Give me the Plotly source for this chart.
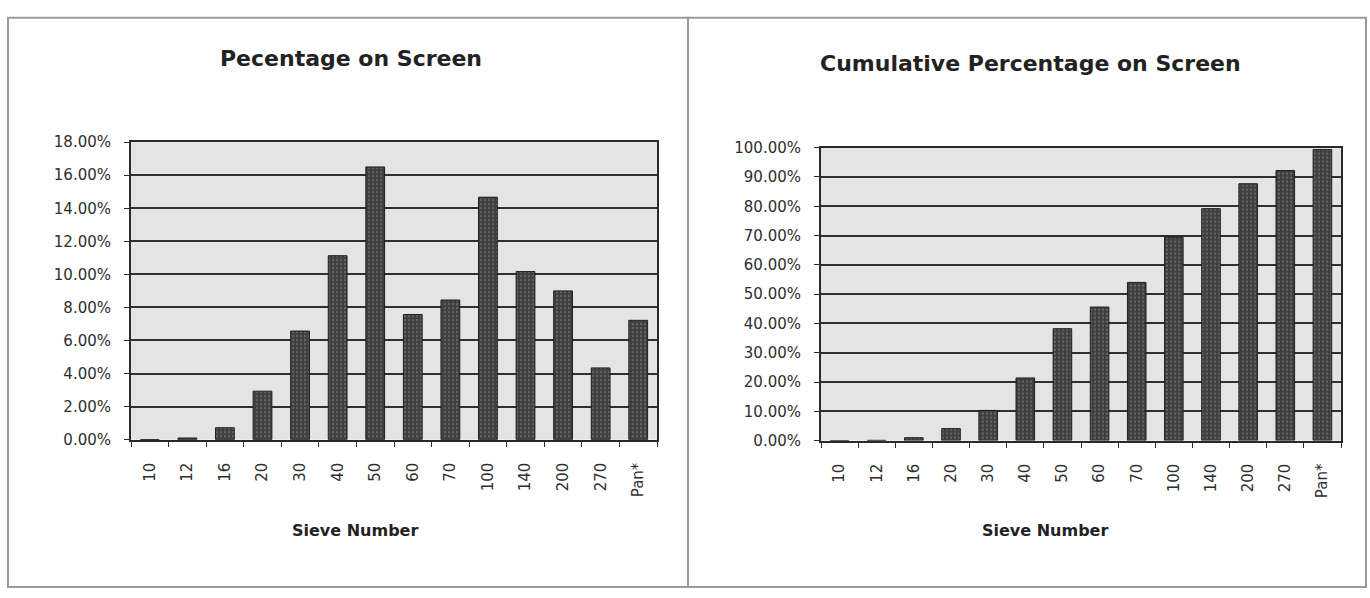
import plotly.graph_objects as go

# Sieve analysis: percentage retained and cumulative percentage retained
sieves = ["10", "12", "16", "20", "30", "40", "50", "60", "70", "100", "140", "200", "270", "Pan*"]
pct_on_screen = [0.0, 0.001, 0.0072, 0.0293, 0.0657, 0.1113, 0.165, 0.0757, 0.0845,
                 0.1467, 0.1017, 0.090, 0.0434, 0.0722]
cum_pct_on_screen = [0.0, 0.001, 0.010, 0.041, 0.103, 0.214, 0.382, 0.456, 0.540,
                     0.694, 0.792, 0.877, 0.922, 0.994]

W, H = 1370, 598

def px_x(v):
    return v / W

def px_y(v):
    return 1 - v / H

bar_style = dict(
    color="#4d4d4d",
    line=dict(color="#1e1e1e", width=1),
    pattern=dict(shape=".", fgcolor="#8c8c8c", bgcolor="#3f3f3f", size=4, solidity=0.25),
)

fig = go.Figure()
fig.add_trace(go.Bar(x=sieves, y=pct_on_screen, marker=bar_style, xaxis="x", yaxis="y",
                     showlegend=False))
fig.add_trace(go.Bar(x=sieves, y=cum_pct_on_screen, marker=bar_style, xaxis="x2", yaxis="y2",
                     showlegend=False))

tick_font = dict(family="DejaVu Sans", size=15, color="#2e2e2e")

xaxis_common = dict(
    type="category",
    tickson="boundaries",
    ticks="outside",
    ticklen=5,
    tickcolor="#2a2a2a",
    tickangle=-90,
    tickfont=tick_font,
    showline=True,
    linecolor="#2a2a2a",
    linewidth=2,
    mirror=True,
    showgrid=False,
    ticklabelstandoff=15,
)
yaxis_common = dict(
    tickformat=".2%",
    ticks="outside",
    ticklen=5,
    tickcolor="#2a2a2a",
    tickfont=tick_font,
    showline=True,
    linecolor="#2a2a2a",
    linewidth=2,
    mirror=True,
    showgrid=True,
    gridcolor="#2f2f2f",
    gridwidth=2,
    zeroline=False,
    ticklabelstandoff=10,
)

fig.update_layout(
    width=W,
    height=H,
    margin=dict(l=0, r=0, t=0, b=0),
    paper_bgcolor="white",
    plot_bgcolor="#e4e4e4",
    bargap=0.5,
    xaxis=dict(domain=[px_x(131), px_x(657)], anchor="y", **xaxis_common),
    yaxis=dict(domain=[px_y(444), px_y(137.3)], anchor="x", range=[0, 0.18], dtick=0.02,
               **yaxis_common),
    xaxis2=dict(domain=[px_x(821), px_x(1341)], anchor="y2", **xaxis_common),
    yaxis2=dict(domain=[px_y(445), px_y(143)], anchor="x2", range=[0, 1.0], dtick=0.1,
                **yaxis_common),
)

title_font = dict(family="DejaVu Sans", size=22, color="#222222", weight="bold")
axis_title_font = dict(family="DejaVu Sans", size=16, color="#222222", weight="bold")

annotations = [
    dict(text="Pecentage on Screen", x=px_x(351), y=px_y(51), font=title_font),
    dict(text="Cumulative Percentage on Screen", x=px_x(1030), y=px_y(56), font=title_font),
    dict(text="Sieve Number", x=px_x(355), y=px_y(538), font=axis_title_font),
    dict(text="Sieve Number", x=px_x(1045), y=px_y(538), font=axis_title_font),
]
for a in annotations:
    fig.add_annotation(xref="paper", yref="paper", showarrow=False,
                       xanchor="center", yanchor="middle", **a)

# Panel frames around each chart
for x0, x1 in [(8, 688), (688, 1366)]:
    fig.add_shape(type="rect", xref="paper", yref="paper",
                  x0=px_x(x0), x1=px_x(x1), y0=px_y(596), y1=px_y(9),
                  line=dict(color="#9a9a9a", width=2), fillcolor="rgba(0,0,0,0)", layer="below")

fig.write_html("out.html")
